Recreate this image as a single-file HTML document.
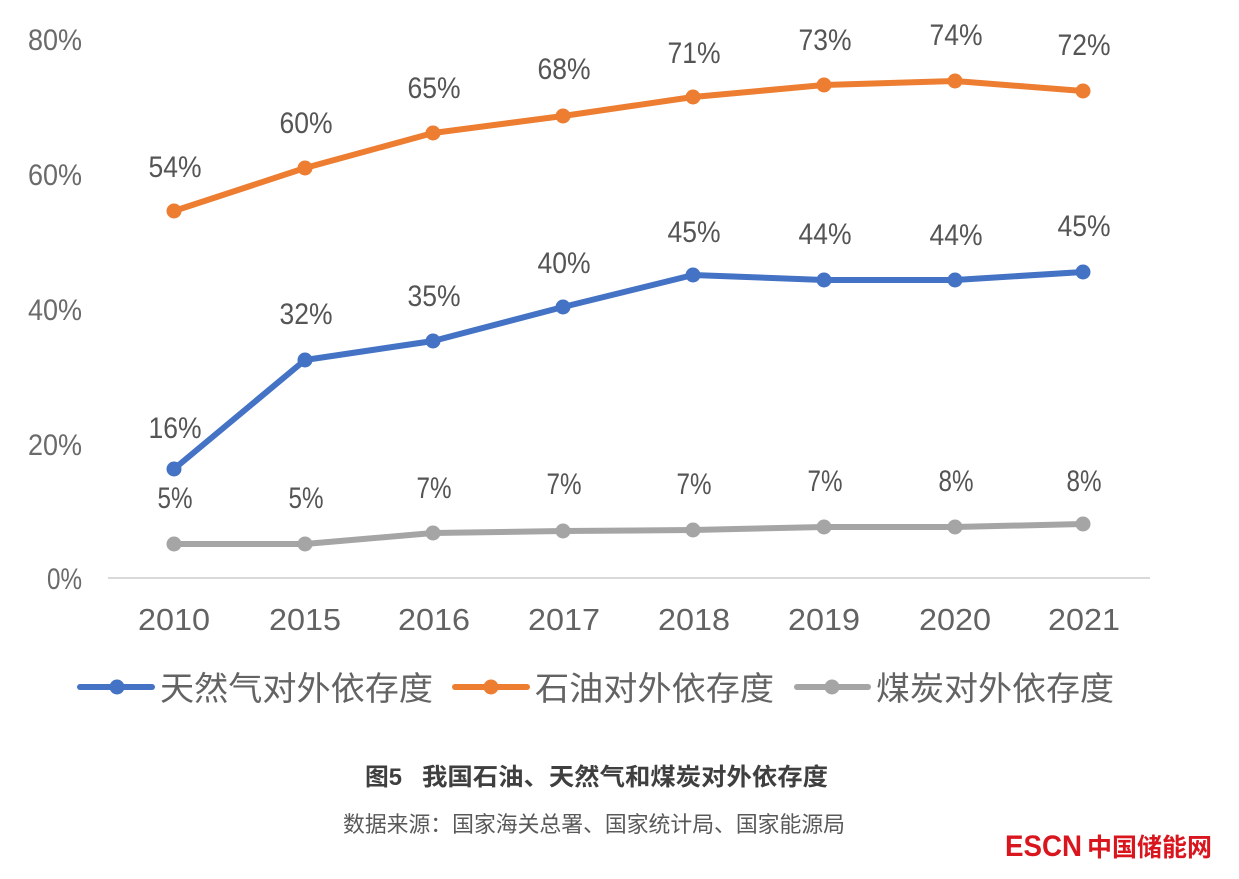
<!DOCTYPE html>
<html>
<head>
<meta charset="utf-8">
<style>
html,body{margin:0;padding:0;background:#fff;}
svg{display:block;}
text{font-family:"Liberation Sans","Noto Sans CJK SC",sans-serif;}
</style>
</head>
<body>
<svg width="1239" height="879" viewBox="0 0 1239 879" xmlns="http://www.w3.org/2000/svg">
<rect width="1239" height="879" fill="#fff"/>

<!-- y axis tick labels -->
<g fill="#6b6b6b" font-size="30" text-anchor="end">
  <text x="82" y="50" textLength="54" lengthAdjust="spacingAndGlyphs">80%</text>
  <text x="82" y="185" textLength="54" lengthAdjust="spacingAndGlyphs">60%</text>
  <text x="82" y="320" textLength="54" lengthAdjust="spacingAndGlyphs">40%</text>
  <text x="82" y="455" textLength="54" lengthAdjust="spacingAndGlyphs">20%</text>
  <text x="82" y="589" textLength="35" lengthAdjust="spacingAndGlyphs">0%</text>
</g>

<!-- x axis line -->
<line x1="108" y1="578" x2="1150" y2="578" stroke="#d9d9d9" stroke-width="2"/>

<!-- x axis labels -->
<g fill="#636363" font-size="31" text-anchor="middle">
  <text x="174" y="630" textLength="72" lengthAdjust="spacingAndGlyphs">2010</text>
  <text x="305" y="630" textLength="72" lengthAdjust="spacingAndGlyphs">2015</text>
  <text x="434" y="630" textLength="72" lengthAdjust="spacingAndGlyphs">2016</text>
  <text x="564" y="630" textLength="72" lengthAdjust="spacingAndGlyphs">2017</text>
  <text x="694" y="630" textLength="72" lengthAdjust="spacingAndGlyphs">2018</text>
  <text x="824" y="630" textLength="72" lengthAdjust="spacingAndGlyphs">2019</text>
  <text x="955" y="630" textLength="72" lengthAdjust="spacingAndGlyphs">2020</text>
  <text x="1084" y="630" textLength="72" lengthAdjust="spacingAndGlyphs">2021</text>
</g>

<!-- Series: oil (orange) -->
<polyline fill="none" stroke="#ED7D31" stroke-width="6" stroke-linejoin="round" stroke-linecap="round"
  points="174,211 305,168 433,133 563,116 693,97 824,85 955,81 1083,91"/>
<g fill="#ED7D31">
  <circle cx="174" cy="211" r="7.5"/><circle cx="305" cy="168" r="7.5"/><circle cx="433" cy="133" r="7.5"/>
  <circle cx="563" cy="116" r="7.5"/><circle cx="693" cy="97" r="7.5"/><circle cx="824" cy="85" r="7.5"/>
  <circle cx="955" cy="81" r="7.5"/><circle cx="1083" cy="91" r="7.5"/>
</g>

<!-- Series: gas (blue) -->
<polyline fill="none" stroke="#4472C4" stroke-width="6" stroke-linejoin="round" stroke-linecap="round"
  points="174,469 305,360 433,341 563,307 693,275 824,280 955,280 1083,272"/>
<g fill="#4472C4">
  <circle cx="174" cy="469" r="7.5"/><circle cx="305" cy="360" r="7.5"/><circle cx="433" cy="341" r="7.5"/>
  <circle cx="563" cy="307" r="7.5"/><circle cx="693" cy="275" r="7.5"/><circle cx="824" cy="280" r="7.5"/>
  <circle cx="955" cy="280" r="7.5"/><circle cx="1083" cy="272" r="7.5"/>
</g>

<!-- Series: coal (gray) -->
<polyline fill="none" stroke="#A5A5A5" stroke-width="6" stroke-linejoin="round" stroke-linecap="round"
  points="174,544 305,544 433,533 563,531 693,530 824,527 955,527 1083,524"/>
<g fill="#A5A5A5">
  <circle cx="174" cy="544" r="7.5"/><circle cx="305" cy="544" r="7.5"/><circle cx="433" cy="533" r="7.5"/>
  <circle cx="563" cy="531" r="7.5"/><circle cx="693" cy="530" r="7.5"/><circle cx="824" cy="527" r="7.5"/>
  <circle cx="955" cy="527" r="7.5"/><circle cx="1083" cy="524" r="7.5"/>
</g>

<!-- Data labels -->
<g fill="#555555" font-size="30" text-anchor="middle">
  <!-- oil -->
  <text x="175" y="177" textLength="53" lengthAdjust="spacingAndGlyphs">54%</text>
  <text x="306" y="133" textLength="53" lengthAdjust="spacingAndGlyphs">60%</text>
  <text x="434" y="98" textLength="53" lengthAdjust="spacingAndGlyphs">65%</text>
  <text x="564" y="79" textLength="53" lengthAdjust="spacingAndGlyphs">68%</text>
  <text x="694" y="63" textLength="53" lengthAdjust="spacingAndGlyphs">71%</text>
  <text x="825" y="50" textLength="53" lengthAdjust="spacingAndGlyphs">73%</text>
  <text x="956" y="45" textLength="53" lengthAdjust="spacingAndGlyphs">74%</text>
  <text x="1084" y="55" textLength="53" lengthAdjust="spacingAndGlyphs">72%</text>
  <!-- gas -->
  <text x="175" y="438" textLength="53" lengthAdjust="spacingAndGlyphs">16%</text>
  <text x="306" y="324" textLength="53" lengthAdjust="spacingAndGlyphs">32%</text>
  <text x="434" y="306" textLength="53" lengthAdjust="spacingAndGlyphs">35%</text>
  <text x="564" y="273" textLength="53" lengthAdjust="spacingAndGlyphs">40%</text>
  <text x="694" y="242" textLength="53" lengthAdjust="spacingAndGlyphs">45%</text>
  <text x="825" y="244" textLength="53" lengthAdjust="spacingAndGlyphs">44%</text>
  <text x="956" y="245" textLength="53" lengthAdjust="spacingAndGlyphs">44%</text>
  <text x="1084" y="236" textLength="53" lengthAdjust="spacingAndGlyphs">45%</text>
  <!-- coal -->
  <text x="175" y="508" textLength="35" lengthAdjust="spacingAndGlyphs">5%</text>
  <text x="306" y="508" textLength="35" lengthAdjust="spacingAndGlyphs">5%</text>
  <text x="434" y="498" textLength="35" lengthAdjust="spacingAndGlyphs">7%</text>
  <text x="564" y="494" textLength="35" lengthAdjust="spacingAndGlyphs">7%</text>
  <text x="694" y="494" textLength="35" lengthAdjust="spacingAndGlyphs">7%</text>
  <text x="825" y="491" textLength="35" lengthAdjust="spacingAndGlyphs">7%</text>
  <text x="956" y="491" textLength="35" lengthAdjust="spacingAndGlyphs">8%</text>
  <text x="1084" y="491" textLength="35" lengthAdjust="spacingAndGlyphs">8%</text>
</g>

<!-- Legend -->
<line x1="80" y1="687" x2="152" y2="687" stroke="#4472C4" stroke-width="6" stroke-linecap="round"/>
<circle cx="117" cy="687" r="7.5" fill="#4472C4"/>
<text x="160" y="700" font-size="33" fill="#636363" textLength="273" lengthAdjust="spacingAndGlyphs">天然气对外依存度</text>

<line x1="455" y1="687" x2="527" y2="687" stroke="#ED7D31" stroke-width="6" stroke-linecap="round"/>
<circle cx="491" cy="687" r="7.5" fill="#ED7D31"/>
<text x="535" y="700" font-size="33" fill="#636363" textLength="239" lengthAdjust="spacingAndGlyphs">石油对外依存度</text>

<line x1="797" y1="687" x2="868" y2="687" stroke="#A5A5A5" stroke-width="6" stroke-linecap="round"/>
<circle cx="832" cy="687" r="7.5" fill="#A5A5A5"/>
<text x="876" y="700" font-size="33" fill="#636363" textLength="238" lengthAdjust="spacingAndGlyphs">煤炭对外依存度</text>

<!-- Caption -->
<text x="365" y="785" font-size="24" font-weight="bold" fill="#3f3f3f" textLength="37" lengthAdjust="spacingAndGlyphs">图5</text>
<text x="422" y="785" font-size="24" font-weight="bold" fill="#3f3f3f" textLength="406" lengthAdjust="spacingAndGlyphs">我国石油、天然气和煤炭对外依存度</text>

<text x="343" y="832" font-size="22" fill="#595959" textLength="502" lengthAdjust="spacingAndGlyphs">数据来源：国家海关总署、国家统计局、国家能源局</text>

<!-- Logo -->
<text x="1005" y="856" font-size="30" font-weight="bold" fill="#d9161e" textLength="77" lengthAdjust="spacingAndGlyphs">ESCN</text>
<text x="1087" y="856" font-size="25" font-weight="bold" fill="#d9161e" textLength="125" lengthAdjust="spacingAndGlyphs">中国储能网</text>
</svg>
</body>
</html>
